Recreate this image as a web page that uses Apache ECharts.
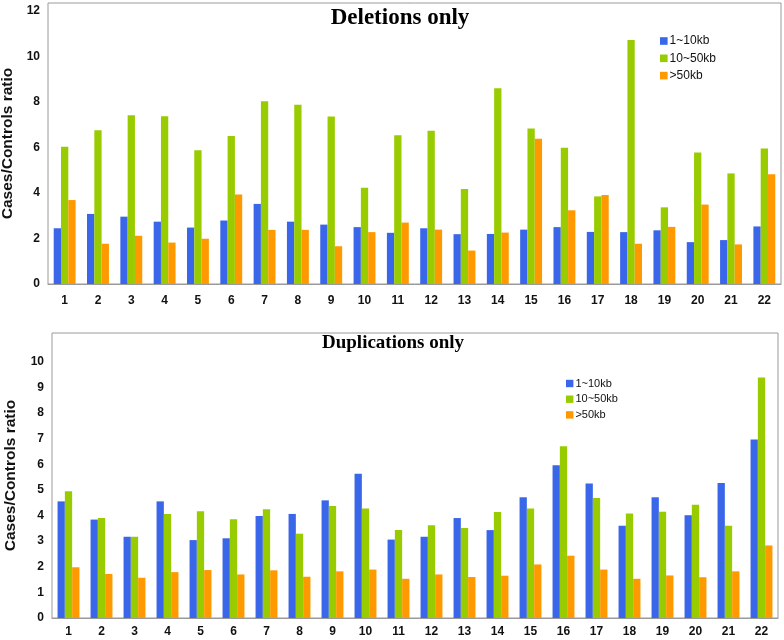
<!DOCTYPE html>
<html>
<head>
<meta charset="utf-8">
<script src="https://cdn.jsdelivr.net/npm/echarts@6/dist/echarts.min.js"></script>
<style>html,body{margin:0;padding:0;background:#fff}#c{width:784px;height:640px}</style>
</head>
<body>
<div id="c"></div>
<script>
const categories = ['1','2','3','4','5','6','7','8','9','10','11','12','13','14','15','16','17','18','19','20','21','22'];
const seriesNames = ['1~10kb', '10~50kb', '>50kb'];
// Deletions only
const del1to10 = [2.45,3.08,2.96,2.74,2.48,2.79,3.52,2.74,2.61,2.50,2.25,2.45,2.19,2.20,2.39,2.50,2.29,2.28,2.36,1.84,1.93,2.53];
const del10to50 = [6.03,6.76,7.42,7.37,5.88,6.50,8.03,7.88,7.36,4.23,6.54,6.74,4.18,8.60,6.83,5.99,3.85,10.72,3.37,5.78,4.86,5.96];
const delOver50 = [3.69,1.77,2.12,1.82,1.99,3.93,2.38,2.38,1.66,2.28,2.70,2.39,1.47,2.26,6.38,3.24,3.91,1.77,2.51,3.49,1.74,4.82];
// Duplications only
const dup1to10 = [4.55,3.84,3.17,4.55,3.04,3.11,3.98,4.06,4.59,5.63,3.06,3.17,3.90,3.43,4.71,5.96,5.25,3.60,4.71,4.01,5.27,6.96];
const dup10to50 = [4.95,3.90,3.17,4.06,4.17,3.85,4.24,3.29,4.37,4.27,3.43,3.62,3.51,4.14,4.27,6.70,4.68,4.08,4.15,4.42,3.60,9.38];
const dupOver50 = [1.98,1.72,1.57,1.79,1.87,1.70,1.86,1.61,1.82,1.89,1.53,1.70,1.60,1.65,2.09,2.43,1.89,1.53,1.66,1.59,1.82,2.83];
const titles = ['Deletions only', 'Duplications only'];
const yName = 'Cases/Controls ratio';
const delTickMax = 12;
const dupTickMax = 10;

const colors = ['#3a66ea', '#99cc00', '#ff9900'];
const sans = 'Liberation Sans, Arial, sans-serif';

function mkLabelFmt(step, top) {
  return function (v) {
    const r = Math.round(v);
    return (Math.abs(v - r) < 1e-6 && r % step === 0 && r <= top) ? String(r) : '';
  };
}

const chart = echarts.init(document.getElementById('c'), null, {renderer: 'canvas'});
const gridBorder = '#9a9a9a';

function yAxis(idx, max, interval, gap, top) {
  return {
    type: 'value', gridIndex: idx, min: 0, max: max, interval: interval,
    splitLine: {show: false}, axisTick: {show: false},
    axisLine: {show: false},
    axisLabel: {color: '#111', fontFamily: sans, fontWeight: 'bold', fontSize: 12, margin: 8, formatter: mkLabelFmt(interval, top)},
    name: yName, nameLocation: 'middle', nameRotate: 90, nameGap: gap,
    nameTextStyle: {color: '#111', fontFamily: sans, fontWeight: 'bold', fontSize: 15.5}
  };
}
function xAxis(idx, margin) {
  return {
    type: 'category', gridIndex: idx, data: categories,
    axisTick: {show: false},
    axisLine: {show: true, lineStyle: {color: gridBorder}},
    axisLabel: {color: '#111', fontFamily: sans, fontWeight: 'bold', fontSize: 12, margin: margin, interval: 0}
  };
}
function bars(idx, arrs) {
  return arrs.map((d, i) => ({
    type: 'bar', name: seriesNames[i], xAxisIndex: idx, yAxisIndex: idx, data: d,
    barWidth: 7.3, barGap: '0%', itemStyle: {color: colors[i]}, animation: false
  }));
}

const option = {
  backgroundColor: '#fff',
  animation: false,
  grid: [
    {left: 48, right: 3, top: 3, bottom: 356, show: true, borderColor: gridBorder, borderWidth: 1, containLabel: false, outerBoundsMode: 'none'},
    {left: 52, right: 6, top: 333, bottom: 22, show: true, borderColor: gridBorder, borderWidth: 1, containLabel: false, outerBoundsMode: 'none'}
  ],
  xAxis: [xAxis(0, 11), xAxis(1, 8)],
  yAxis: [yAxis(0, 12.35, 2, 29, delTickMax), yAxis(1, 11.12, 1, 33, dupTickMax)],
  legend: [
    {data: seriesNames, orient: 'vertical', left: 660, top: 35, padding: 0, itemWidth: 7.6, itemHeight: 7.6, itemGap: 5.3,
     icon: 'rect', textStyle: {fontFamily: sans, fontSize: 12, color: '#111', padding: [0, 0, 0, -3]}},
    {data: seriesNames, orient: 'vertical', left: 566, top: 378, padding: 0, itemWidth: 7.4, itemHeight: 7.4, itemGap: 4.7,
     icon: 'rect', textStyle: {fontFamily: sans, fontSize: 11, color: '#111', padding: [0, 0, 0, -3]}}
  ],
  graphic: [
    {type: 'text', x: 400, y: 18, style: {text: titles[0], fontFamily: 'Liberation Serif, Times New Roman, serif', fontWeight: 'bold', fontSize: 23, fill: '#000', textAlign: 'center', textVerticalAlign: 'middle'}},
    {type: 'text', x: 393, y: 343, style: {text: titles[1], fontFamily: 'Liberation Serif, Times New Roman, serif', fontWeight: 'bold', fontSize: 19, fill: '#000', textAlign: 'center', textVerticalAlign: 'middle'}}
  ],
  series: [].concat(bars(0, [del1to10, del10to50, delOver50]), bars(1, [dup1to10, dup10to50, dupOver50]))
};
chart.setOption(option);
</script>
</body>
</html>
